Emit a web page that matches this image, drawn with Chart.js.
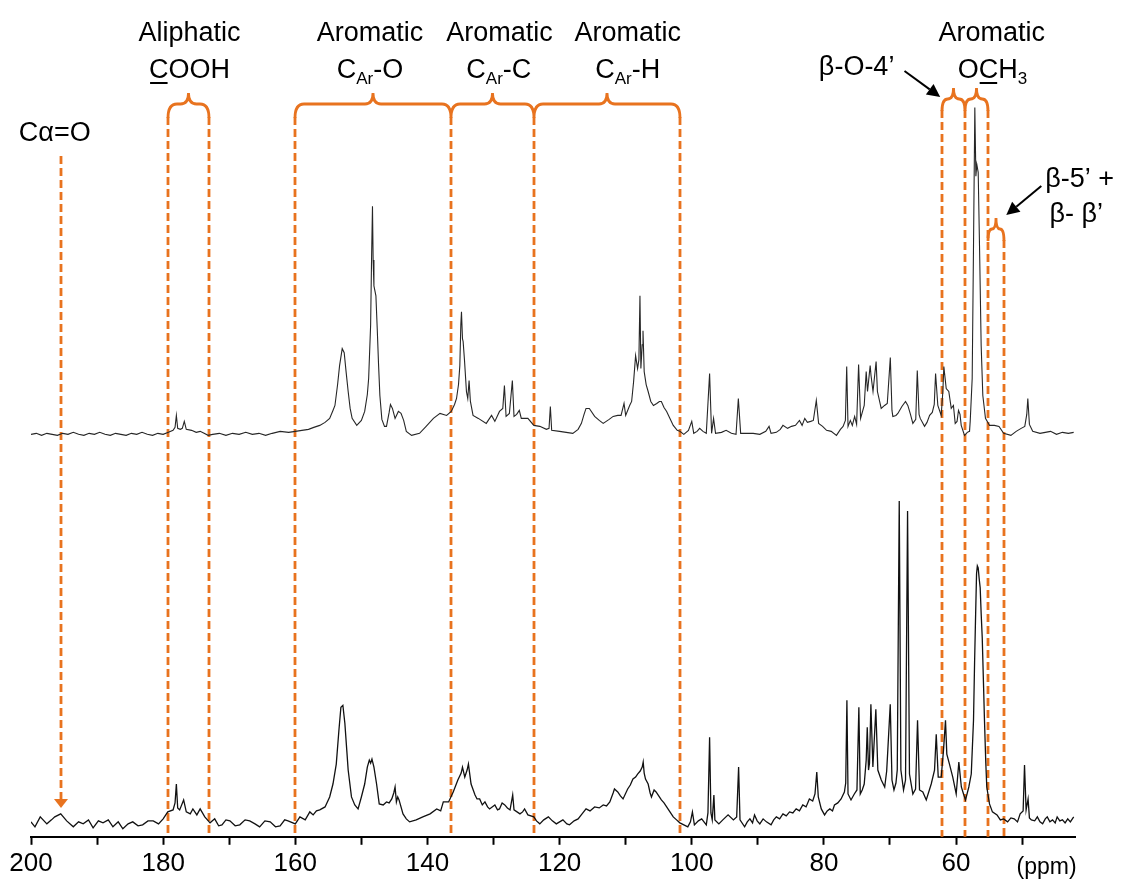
<!DOCTYPE html>
<html>
<head>
<meta charset="utf-8">
<script src="https://cdn.jsdelivr.net/npm/chart.js@4.4.1/dist/chart.umd.min.js"></script>
<style>
html,body{margin:0;padding:0;background:#ffffff;}
#wrap{width:1121px;height:882px;position:relative;}
</style>
</head>
<body>
<div id="wrap"><canvas id="c" width="1121" height="882"></canvas></div>
<script>
// ---------------- DATA ----------------
// x-axis tick positions (ppm) and their labels
const X_TICKS = [200,190,180,170,160,150,140,130,120,110,100,90,80,70,60,50];
const X_TICK_LABELS = ['200','','180','','160','','140','','120','','100','','80','','60',''];

// upper spectrum: [ppm, intensity above its own baseline]
const TOP_SPECTRUM = [
[200.0,0],[199.2,1],[198.4,-1],[197.6,1],[196.8,0],[196.0,-1],[195.2,1],[194.4,0],[193.6,2],[192.8,0],[192.0,-1],[191.2,1],[190.4,0],[189.6,2],[188.8,0],[188.0,-1],[187.2,1],[186.4,0],[185.6,-1],[184.8,1],[184.0,0],[183.2,2],[182.4,0],[181.6,-1],[180.8,1],[180.0,0],
[179.2,2],[178.5,4],[178.2,7],[178.0,19],[177.8,6],[177.4,5],[177.1,6],[176.8,13],[176.5,5],[175.7,4],[175.0,2],[174.4,3],[173.8,1],[173.2,-1],[172.5,0],[171.5,1],[170.5,-1],[169.5,1],[168.5,0],[167.5,2],[166.5,0],[165.5,1],[164.5,-1],[163.5,1],[162.3,3],[161.0,2],[160.0,3],
[159.0,4],[158.0,5],[157.2,7],[156.3,9],[155.5,12],[154.8,16],[154.3,24],[154.0,29],[153.6,50],[153.3,69],[152.9,86],[152.6,82],[152.3,62],[152.0,43],[151.7,26],[151.4,16],[150.7,9],[150.0,14],[149.5,23],[149.1,40],[148.9,56],[148.6,110],[148.45,180],[148.32,229],[148.22,175],[148.1,149],[147.8,139],[147.6,106],[147.4,70],[147.2,39],[146.9,15],[146.5,8],[146.2,8],[145.8,22],[145.6,30],[145.3,26],[144.9,16],[144.4,23],[144.0,21],[143.6,14],[143.2,3],[142.4,-1],[141.2,1],[140.2,8],[139.1,16],[138.1,21],[137.1,19],[136.4,23],
[135.9,30],[135.6,36],[135.3,50],[135.1,69],[134.95,110],[134.85,123],[134.7,96],[134.6,93],[134.4,75],[134.1,43],[133.9,36],[133.7,54],[133.5,33],[133.1,19],[132.3,16],[131.1,11],[130.3,19],[129.8,13],[129.1,23],[128.6,26],[128.35,49],[128.1,18],[127.6,21],[127.15,54],[126.9,18],[126.5,20],[126.1,24],[125.8,16],[124.8,16],[123.9,9],
[123.0,8],[122.0,5],[121.6,6],[121.4,28],[121.2,4],[120.0,3],[119.0,2],[118.0,1],[117.2,5],[116.7,11],[116.3,20],[116.0,26],[115.5,26],[114.7,18],[114.0,14],[113.4,11],[112.5,15],[111.9,18],[111.2,19],[110.7,19],[110.25,31],[110.0,19],[109.4,29],[109.1,33],[108.8,53],[108.5,79],[108.2,66],[108.0,75],[107.84,139],[107.7,66],[107.5,90],[107.38,104],[107.2,63],[106.9,50],[106.6,43],[106.2,33],[105.8,29],[105.3,31],[104.9,33],[104.6,33],[104.2,27],[103.8,23],[103.3,16],[102.8,9],[102.2,4],[101.8,3],
[101.2,0],[100.5,4],[100.0,13],[99.7,1],[99.2,3],[98.8,6],[98.3,3],[97.8,1],[97.3,61],[97.0,1],[96.7,16],[96.4,1],[95.5,2],[94.8,4],[94.0,1],[93.3,0],[92.95,36],[92.6,1],[91.7,1],[90.7,1],[89.7,0],[88.8,3],[88.3,8],[88.0,1],[87.2,2],[86.6,5],[86.2,9],[85.5,6],[84.9,8],[84.3,9],[83.7,14],[83.3,9],[82.9,16],[82.5,12],[82.0,13],[81.6,14],[81.15,34],[80.8,11],[80.2,8],[79.6,4],[78.9,3],[78.1,-1],[77.5,5],
[77.1,8],[76.75,14],[76.55,68],[76.35,8],[76.0,14],[75.7,9],[75.35,18],[75.05,10],[74.75,70],[74.45,16],[73.9,29],[73.6,63],[73.4,43],[73.0,69],[72.87,59],[72.57,43],[72.1,73],[71.9,43],[71.33,26],[70.82,29],[70.41,31],[69.95,77],[69.7,24],[69.57,18],[69.1,19],[68.81,21],[68.2,28],[67.65,33],[67.3,29],[66.9,20],[66.54,11],[66.1,15],[65.87,64],[65.6,20],[65.42,16],[64.77,8],[64.4,12],[64.0,19],[63.6,22],[63.3,30],[63.1,61],[62.76,29],[62.25,19],[62.0,43],[61.85,68],[61.49,46],[61.1,43],[60.73,26],[60.4,29],[60.13,11],[59.85,13],[59.63,24],[59.4,20],[59.22,9],[58.72,-1],[58.3,2],[57.96,3],[57.86,13],[57.56,56],[57.36,189],[57.16,328],[57.0,259],[56.86,271],[56.65,263],[56.45,189],[56.2,89],[55.95,39],[55.55,16],[54.94,9],
[54.2,9],[53.5,8],[52.8,1],[51.7,-1],[50.9,3],[50.15,6],[49.6,8],[49.3,20],[49.14,36],[48.9,10],[48.4,3],[47.3,1],[46.5,2],[45.7,3],[44.8,0],[43.9,2],[43.0,1],[42.2,2]
];

// lower spectrum: [ppm, intensity above its own baseline]
const BOTTOM_SPECTRUM = [
[200.0,1],[199.4,-4],[198.6,6],[197.6,-1],[196.9,3],[196.4,6],[195.5,9],[194.6,2],[193.6,-4],[192.8,1],[192.1,-1],[191.3,3],[190.6,-5],[189.8,2],[189.1,0],[188.3,3],[187.6,-4],[186.8,1],[186.1,-6],[185.3,-1],[184.6,1],[183.8,-3],[183.1,-2],[182.3,2],[181.5,2],[180.7,-1],[180.0,4],
[179.3,11],[178.5,13],[178.2,20],[178.0,39],[177.8,15],[177.5,13],[176.9,23],[176.5,11],[175.9,9],[175.5,14],[174.9,8],[174.4,14],[173.7,6],[172.9,0],[172.2,4],[171.6,-3],[171.1,-2],[170.5,3],[169.9,2],[169.1,-3],[168.4,-2],[167.6,3],[166.9,2],[166.1,-1],[165.4,-4],[164.6,2],[163.8,1],[163.0,-4],[162.3,-3],[161.6,3],[161.1,2],[160.0,-1],
[159.3,6],[158.5,3],[157.8,11],[157.3,8],[156.8,12],[156.3,13],[155.5,16],[154.8,26],[154.3,39],[153.8,59],[153.4,93],[153.1,116],[152.8,118],[152.5,100],[152.2,72],[152.0,53],[151.5,26],[151.0,18],[150.5,14],[150.0,26],[149.5,39],[149.1,56],[148.8,63],[148.6,60],[148.4,64],[148.1,56],[147.7,39],[147.3,19],[146.7,18],[146.2,21],[145.8,20],[145.4,24],[145.1,30],[144.9,36],[144.7,21],[144.5,26],[144.3,23],[143.7,9],[143.2,4],[142.7,1],[141.7,3],[140.7,6],[139.6,9],[138.6,14],[138.0,12],[137.6,21],[136.8,21],
[136.1,31],[135.4,43],[134.9,50],[134.7,56],[134.35,46],[134.0,53],[133.8,59],[133.4,39],[132.8,28],[132.5,24],[132.1,24],[131.7,18],[131.3,21],[130.9,16],[130.6,14],[129.8,18],[129.4,13],[129.1,14],[128.7,20],[128.3,18],[127.9,15],[127.5,13],[127.1,28],[126.9,13],[126.0,9],[125.6,11],[125.3,14],[124.8,8],[123.9,6],
[123.5,2],[123.0,-1],[122.4,3],[121.7,6],[121.1,2],[120.5,-1],[120.0,1],[119.5,3],[118.9,-1],[118.5,-2],[117.8,2],[117.2,4],[116.6,9],[116.0,14],[115.4,12],[114.7,16],[114.0,15],[113.4,18],[112.9,17],[112.4,21],[111.9,30],[111.7,34],[111.2,31],[110.8,27],[110.4,24],[109.7,34],[109.3,38],[108.9,44],[108.5,46],[108.2,49],[107.8,52],[107.5,56],[107.35,61],[107.2,50],[107.0,44],[106.6,39],[106.3,30],[106.1,26],[105.7,33],[105.4,31],[105.0,27],[104.6,23],[104.2,20],[103.8,16],[103.3,11],[102.8,6],[102.3,3],[101.8,0],
[101.2,-2],[100.6,-4],[100.2,1],[99.9,11],[99.6,-2],[99.0,2],[98.5,4],[97.8,-2],[97.55,10],[97.3,86],[97.1,10],[96.9,3],[96.65,28],[96.5,3],[95.9,-1],[95.3,3],[94.5,8],[93.7,3],[93.2,6],[92.91,56],[92.7,3],[92.0,-4],[91.6,1],[91.2,4],[90.8,0],[90.5,8],[90.1,2],[89.7,-1],[89.2,4],[88.7,1],[88.0,-2],[87.6,3],[87.2,6],[86.7,4],[86.2,9],[85.7,7],[85.2,11],[84.7,10],[84.2,14],[83.7,12],[83.2,18],[82.7,16],[82.2,24],[81.7,22],[81.35,29],[81.08,51],[80.85,26],[80.4,14],[79.9,8],[79.5,12],[79.1,14],[78.7,12],[78.4,18],[77.9,20],[77.4,24],[76.9,31],[76.7,40],[76.52,123],[76.35,29],[75.9,23],[75.4,29],[75.0,33],
[74.71,116],[74.5,29],[74.2,33],[73.9,39],[73.6,63],[73.44,96],[73.25,53],[73.1,60],[72.89,119],[72.59,56],[72.14,114],[71.84,53],[71.32,43],[70.8,36],[70.5,52],[70.32,74],[69.96,119],[69.7,43],[69.4,33],[69.1,40],[68.9,53],[68.6,323],[68.35,53],[67.95,33],[67.65,43],[67.34,313],[67.05,49],[66.54,29],[66.13,34],[65.83,103],[65.53,33],[65.03,31],[64.51,23],[63.76,39],[63.26,53],[63.0,89],[62.7,46],[62.25,46],[61.9,73],[61.6,103],[61.4,69],[61.0,59],[60.5,46],[59.98,29],[59.58,61],[59.2,36],[58.87,29],[58.57,23],[58.07,36],[57.7,49],[57.36,103],[57.2,160],[57.06,203],[56.9,250],[56.78,258],[56.65,256],[56.5,245],[56.35,236],[56.2,210],[56.04,186],[55.85,140],[55.7,103],[55.5,60],[55.35,36],[54.94,19],
[54.5,11],[53.8,8],[53.3,3],[52.8,4],[52.2,1],[51.7,5],[51.2,4],[50.7,1],[50.3,9],[49.85,12],[49.64,58],[49.4,13],[49.1,24],[48.9,5],[48.6,3],[48.1,2],[47.7,6],[47.3,1],[46.9,-1],[46.5,4],[46.2,6],[45.8,1],[45.4,3],[45.0,0],[44.7,6],[44.3,2],[43.9,3],[43.5,0],[43.1,4],[42.7,1],[42.2,6]
];

// vertical stacking offsets of the two traces
const TOP_OFFSET = 404;
const BOTTOM_OFFSET = 14;

// region boundaries (ppm)
const COOH_BOUNDS = [179.3, 173.1];
const AROMATIC_BOUNDS = [160.0, 136.5, 123.9, 101.8];
const OCH3_BOUNDS = [62.2, 58.6, 55.1];
const B5_BOUNDS = [55.1, 52.8];
const CALPHA_PPM = 195.5;

// ---------------- STYLE ----------------
const FONT = "'Liberation Sans', Arial, Helvetica, sans-serif";
const ORANGE = '#E8731F';
Chart.defaults.font.family = FONT;

function X(chart, ppm){ return chart.scales.x.getPixelForValue(ppm); }

function drawBrace(ctx, xs, yH, yTop, yEnd){
  ctx.beginPath();
  for (let i = 0; i < xs.length - 1; i++){
    const a = xs[i], b = xs[i+1], m = (a + b) / 2;
    const r = Math.min(9, (b - a) / 4);
    const r2 = Math.min(8, (b - a) / 4);
    ctx.moveTo(a, yEnd);
    ctx.quadraticCurveTo(a, yH, a + r, yH);
    ctx.lineTo(m - r2, yH);
    ctx.quadraticCurveTo(m, yH, m, yTop);
    ctx.moveTo(m, yTop);
    ctx.quadraticCurveTo(m, yH, m + r2, yH);
    ctx.lineTo(b - r, yH);
    ctx.quadraticCurveTo(b, yH, b, yEnd);
  }
  ctx.stroke();
}

function drawArrow(ctx, x1, y1, x2, y2){
  const ang = Math.atan2(y2 - y1, x2 - x1), L = 13, W = 6.5;
  const bx = x2 - L * Math.cos(ang), by = y2 - L * Math.sin(ang);
  ctx.beginPath(); ctx.moveTo(x1, y1); ctx.lineTo(bx, by); ctx.stroke();
  ctx.beginPath();
  ctx.moveTo(x2, y2);
  ctx.lineTo(bx + W * Math.sin(ang), by - W * Math.cos(ang));
  ctx.lineTo(bx - W * Math.sin(ang), by + W * Math.cos(ang));
  ctx.closePath(); ctx.fill();
}

function rich(ctx, parts, cx, by, size){
  const main = size + 'px ' + FONT, sub = Math.round(size * 0.64) + 'px ' + FONT;
  let w = 0;
  parts.forEach(p => { ctx.font = p.sub ? sub : main; p.w = ctx.measureText(p.t).width; w += p.w; });
  let x = cx - w / 2;
  ctx.textAlign = 'left'; ctx.textBaseline = 'alphabetic';
  parts.forEach(p => {
    ctx.font = p.sub ? sub : main;
    ctx.fillText(p.t, x, p.sub ? by + 6 : by);
    if (p.u) ctx.fillRect(x + 1, by + 4, p.w - 2, 2);
    x += p.w;
  });
}

const LABELS = [
  {ppm:176.0, y:41, parts:[{t:'Aliphatic'}]},
  {ppm:176.0, y:78, parts:[{t:'C',u:1},{t:'OOH'}]},
  {ppm:148.7, y:41, parts:[{t:'Aromatic'}]},
  {ppm:148.7, y:78, parts:[{t:'C'},{t:'Ar',sub:1},{t:'-O'}]},
  {ppm:129.1, y:41, parts:[{t:'Aromatic'}]},
  {ppm:129.2, y:78, parts:[{t:'C'},{t:'Ar',sub:1},{t:'-C'}]},
  {ppm:109.7, y:41, parts:[{t:'Aromatic'}]},
  {ppm:109.7, y:78, parts:[{t:'C'},{t:'Ar',sub:1},{t:'-H'}]},
  {ppm:54.6, y:41, parts:[{t:'Aromatic'}]},
  {ppm:54.5, y:78, parts:[{t:'O'},{t:'C',u:1},{t:'H'},{t:'3',sub:1}]},
  {ppm:75.05, y:75, parts:[{t:'β-O-4’'}]},
  {ppm:41.3, y:187, parts:[{t:'β-5’ +'}]},
  {ppm:41.8, y:222, parts:[{t:'β- β’'}]},
  {ppm:196.4, y:141, parts:[{t:'Cα=O'}]}
];

const annot = {
  id: 'annot',
  beforeDatasetsDraw(chart){
    const ctx = chart.ctx, bottom = chart.chartArea.bottom;
    const lines = [];
    COOH_BOUNDS.forEach(p => lines.push([p, 117, bottom]));
    AROMATIC_BOUNDS.forEach(p => lines.push([p, 117, bottom]));
    OCH3_BOUNDS.forEach(p => lines.push([p, 110, bottom]));
    lines.push([B5_BOUNDS[1], 240, bottom]);
    lines.push([CALPHA_PPM, 156, 800]);
    ctx.save();
    ctx.strokeStyle = ORANGE; ctx.lineWidth = 2.8; ctx.setLineDash([8, 4]);
    lines.forEach(l => {
      const x = Math.round(X(chart, l[0]));
      ctx.beginPath(); ctx.moveTo(x, l[1]); ctx.lineTo(x, l[2]); ctx.stroke();
    });
    ctx.setLineDash([]);
    // arrow head of the Cα=O marker
    const xc = Math.round(X(chart, CALPHA_PPM));
    ctx.fillStyle = ORANGE;
    ctx.beginPath(); ctx.moveTo(xc - 7, 799); ctx.lineTo(xc + 7, 799); ctx.lineTo(xc, 808); ctx.closePath(); ctx.fill();
    ctx.restore();
  },
  afterDatasetsDraw(chart){
    const ctx = chart.ctx;
    ctx.save();
    ctx.strokeStyle = ORANGE; ctx.lineWidth = 2.8; ctx.lineJoin = 'round';
    const px = arr => arr.map(p => Math.round(X(chart, p)));
    drawBrace(ctx, px(COOH_BOUNDS), 104, 93, 118);
    drawBrace(ctx, px(AROMATIC_BOUNDS), 104, 93, 118);
    drawBrace(ctx, px(OCH3_BOUNDS), 99, 88, 111);
    drawBrace(ctx, px(B5_BOUNDS), 229, 218, 241);
    // black arrows
    ctx.strokeStyle = '#000'; ctx.fillStyle = '#000'; ctx.lineWidth = 2;
    drawArrow(ctx, X(chart, 67.8), 71, X(chart, 62.4), 97);
    drawArrow(ctx, X(chart, 47.1), 186, X(chart, 52.4), 215);
    // labels
    ctx.fillStyle = '#000';
    LABELS.forEach(l => rich(ctx, l.parts, X(chart, l.ppm), l.y, 27));
    // axis unit
    ctx.font = '23px ' + FONT; ctx.textAlign = 'center'; ctx.textBaseline = 'alphabetic';
    ctx.fillText('(ppm)', X(chart, 46.3), 874);
    ctx.restore();
  }
};

new Chart(document.getElementById('c').getContext('2d'), {
  type: 'line',
  data: {
    datasets: [
      { label: 'upper', data: TOP_SPECTRUM.map(d => ({x: d[0], y: TOP_OFFSET + d[1]})),
        borderColor: '#262626', borderWidth: 1.1, pointRadius: 0, tension: 0, fill: false },
      { label: 'lower', data: BOTTOM_SPECTRUM.map(d => ({x: d[0], y: BOTTOM_OFFSET + d[1]})),
        borderColor: '#111111', borderWidth: 1.3, pointRadius: 0, tension: 0, fill: false }
    ]
  },
  options: {
    responsive: false, animation: false, events: [],
    layout: { padding: { left: 31, right: 46, top: 0, bottom: 0 } },
    plugins: { legend: { display: false }, tooltip: { enabled: false } },
    scales: {
      x: {
        type: 'linear', reverse: true, min: 42, max: 200, position: 'bottom',
        afterBuildTicks: s => { s.ticks = X_TICKS.map(v => ({ value: v })); },
        grid: { drawOnChartArea: false, drawTicks: true, tickLength: 8, tickWidth: 2, tickColor: '#000' },
        border: { display: true, color: '#000', width: 2 },
        ticks: { autoSkip: false, maxRotation: 0, padding: 3, color: '#000',
                 font: { family: FONT, size: 26 },
                 callback: v => X_TICK_LABELS[X_TICKS.indexOf(v)] }
      },
      y: { display: false, min: 0, max: 840 }
    }
  },
  plugins: [annot]
});
</script>
</body>
</html>
